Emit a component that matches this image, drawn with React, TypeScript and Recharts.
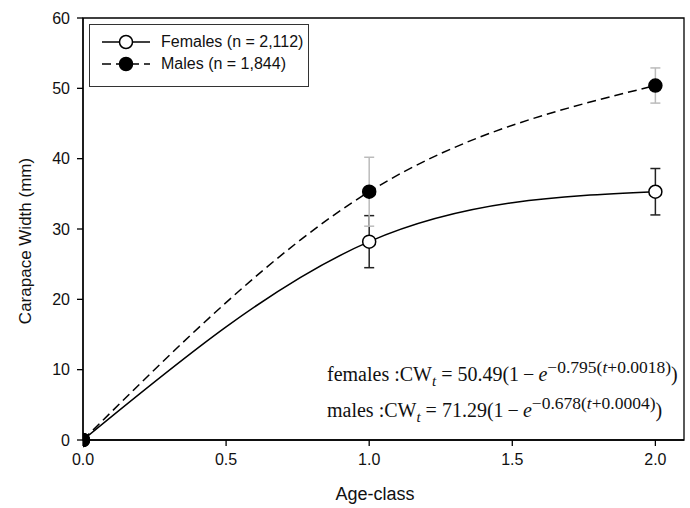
import React from 'react';
import { LineChart, Line, XAxis, YAxis, ErrorBar, ReferenceArea, Label } from 'recharts';

// values
const ageClass = [0, 1, 2];
const femaleCW = [0, 28.2, 35.3];
const femaleErr = [0, 3.7, 3.3];
const maleCW = [0, 35.3, 50.4];
const maleErr = [0, 4.9, 2.5];
const xTicks = [0, 0.5, 1, 1.5, 2];
const yTicks = [0, 10, 20, 30, 40, 50, 60];

const data = ageClass.map((age, i) => ({
  age,
  female: femaleCW[i],
  femaleErr: femaleErr[i],
  male: maleCW[i],
  maleErr: maleErr[i],
}));

const sans = 'Arial, "Liberation Sans", sans-serif';
const serif = '"Times New Roman", "Liberation Serif", serif';

const LegendBox = () => (
  <div
    style={{
      position: 'absolute', left: 89, top: 24, width: 218, height: 61,
      border: '1.5px solid #333', background: '#fff', fontFamily: sans, fontSize: 16, color: '#111',
    }}
  >
    <div style={{ position: 'absolute', left: 10, top: 8, display: 'flex', alignItems: 'center' }}>
      <svg width={52} height={16}>
        <line x1={2} y1={8} x2={50} y2={8} stroke="#000" strokeWidth={1.5} />
        <circle cx={26} cy={8} r={6.5} fill="#fff" stroke="#000" strokeWidth={1.5} />
      </svg>
      <span style={{ marginLeft: 9 }}>Females (n = 2,112)</span>
    </div>
    <div style={{ position: 'absolute', left: 10, top: 30, display: 'flex', alignItems: 'center' }}>
      <svg width={52} height={16}>
        <line x1={2} y1={8} x2={50} y2={8} stroke="#000" strokeWidth={1.5} strokeDasharray="9 5" />
        <circle cx={26} cy={8} r={6.5} fill="#000" stroke="#000" strokeWidth={1.5} />
      </svg>
      <span style={{ marginLeft: 9 }}>Males (n = 1,844)</span>
    </div>
  </div>
);

const Equation = ({ top, label, a, k, t0 }: { top: number; label: string; a: string; k: string; t0: string }) => (
  <div style={{ position: 'absolute', left: 327, top, fontFamily: serif, fontSize: 20, color: '#111', whiteSpace: 'nowrap' }}>
    {label} :CW<sub style={{ fontStyle: 'italic', fontSize: 15 }}>t</sub> = {a}(1{'\u2009'}−{'\u2009'}<i>e</i>
    <sup style={{ fontSize: 17.5 }}>
      −{k}(<i>t</i>+{t0})
    </sup>
    )
  </div>
);

const App = () => {
  return (
    <div style={{ position: 'absolute', left: 0, top: 0, width: 690, height: 508, background: '#fff' }}>
      <LineChart width={690} height={508} data={data} margin={{ top: 18, right: 6, left: 0, bottom: 0 }}>
        <XAxis
          type="number"
          dataKey="age"
          domain={[0, 2.1]}
          ticks={xTicks}
          allowDataOverflow
          tickFormatter={(v: number) => v.toFixed(1)}
          tick={{ fill: '#111', fontSize: 16, fontFamily: sans }}
          tickSize={6}
          tickMargin={8}
          height={68}
          stroke="#000"
          strokeWidth={1.3}
        >
          <Label
            content={() => (
              <text x={375} y={500} textAnchor="middle" fontSize={18} fontFamily={sans} fill="#111">
                Age-class
              </text>
            )}
          />
        </XAxis>
        <YAxis
          type="number"
          domain={[0, 60]}
          ticks={yTicks}
          tick={{ fill: '#111', fontSize: 16, fontFamily: sans }}
          tickSize={6}
          tickMargin={7}
          width={83}
          stroke="#000"
          strokeWidth={1.3}
        >
          <Label
            content={() => (
              <text
                x={25}
                y={241}
                transform="rotate(-90 25 241)"
                textAnchor="middle"
                dominantBaseline="central"
                fontSize={17}
                fontFamily={sans}
                fill="#111"
              >
                Carapace Width (mm)
              </text>
            )}
          />
        </YAxis>
        <ReferenceArea x1={0} x2={2.1} y1={0} y2={60} fill="none" stroke="#000" strokeWidth={1.3} fillOpacity={0} />
        <Line
          dataKey="female"
          type="natural"
          stroke="#000"
          strokeWidth={1.5}
          dot={{ r: 6.5, fill: '#fff', stroke: '#000', strokeWidth: 1.5 }}
          activeDot={false}
          isAnimationActive={false}
        >
          <ErrorBar dataKey="femaleErr" direction="y" width={5} stroke="#222" strokeWidth={1.5} />
        </Line>
        <Line
          dataKey="male"
          type="natural"
          stroke="#000"
          strokeWidth={1.5}
          strokeDasharray="9 5"
          dot={{ r: 6.5, fill: '#000', stroke: '#000', strokeWidth: 1.5, strokeDasharray: '0' }}
          activeDot={false}
          isAnimationActive={false}
        >
          <ErrorBar dataKey="maleErr" direction="y" width={5} stroke="#bbb" strokeWidth={1.5} />
        </Line>
      </LineChart>
      <LegendBox />
      <Equation top={357} label="females" a="50.49" k="0.795" t0="0.0018" />
      <Equation top={393} label="males" a="71.29" k="0.678" t0="0.0004" />
    </div>
  );
};

export default App;
